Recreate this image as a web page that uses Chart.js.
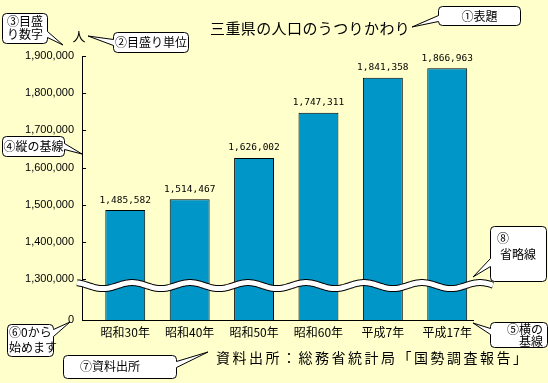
<!DOCTYPE html>
<html>
<head>
<meta charset="utf-8">
<script src="https://cdn.jsdelivr.net/npm/chart.js@4/dist/chart.umd.min.js"></script>
<style>
html,body{margin:0;padding:0;background:#FFFFCC;}
#wrap{width:548px;height:383px;position:relative;}
</style>
</head>
<body>
<div id="wrap"><canvas id="c" width="548" height="383"></canvas></div>
<script>
// ---- data ----
const categories = ['昭和30年', '昭和40年', '昭和50年', '昭和60年', '平成7年', '平成17年'];
const population = [1485582, 1514467, 1626002, 1747311, 1841358, 1866963];
const yTickValues = [1300000, 1400000, 1500000, 1600000, 1700000, 1800000, 1900000];
const zeroLabel = '0';
const chartTitle = '三重県の人口のうつりかわり';
const unitLabel = '人';
const sourceText = '資料出所：総務省統計局「国勢調査報告」';
const calloutTexts = [
  ['①表題'],
  ['②目盛り単位'],
  ['③目盛', 'り数字'],
  ['④縦の基線'],
  ['⑤横の', '基線'],
  ['⑥0から', '始めます'],
  ['⑦資料出所'],
  ['⑧', '省略線']
];

// ---- layout / style (not data) ----
const Y_MIN = 1190000;       // bottom of broken axis (shown as 0)
const Y_MAX = 1900000;
const BREAK_VALUE = 1282500; // where the break mark sits
const BAR_COLOR = '#0096C8';
const BG = '#FFFFCC';
const CJK = "'Noto Sans CJK JP', 'Noto Sans CJK SC', sans-serif";

const calloutLayout = [
  {x:438, y:6,   w:82,  h:19, align:'center', lineY:[16],       side:'left',  base:[15,21],   tip:[412,27]},
  {x:113, y:32,  w:75,  h:20, align:'center', lineY:[42],       side:'left',  base:[39,45],   tip:[88,36]},
  {x:2,   y:13,  w:45,  h:30, align:'center', lineY:[21,34],    side:'right', base:[31,37],   tip:[63,45]},
  {x:2,   y:136, w:62,  h:20, align:'center', lineY:[146],      side:'right', base:[143,149], tip:[82,154]},
  {x:490, y:322, w:57,  h:25, align:'right',  lineY:[329,341],  side:'left',  base:[328,334], tip:[473,323]},
  {x:7,   y:324, w:46,  h:32, align:'left',   lineY:[332,347],  side:'right', base:[329,336], tip:[70,322]},
  {x:63,  y:355, w:113, h:23, align:'left',   lineY:[366],      side:'right', base:[361,367], tip:[208,352], tx:80},
  {x:490, y:226, w:56,  h:55, align:'center', lineY:[238,254],  side:'left',  base:[258,266], tip:[473,277], lineX:[503,518]}
];

function roundRect(ctx, x, y, w, h, r) {
  ctx.beginPath();
  ctx.moveTo(x + r, y);
  ctx.lineTo(x + w - r, y);
  ctx.quadraticCurveTo(x + w, y, x + w, y + r);
  ctx.lineTo(x + w, y + h - r);
  ctx.quadraticCurveTo(x + w, y + h, x + w - r, y + h);
  ctx.lineTo(x + r, y + h);
  ctx.quadraticCurveTo(x, y + h, x, y + h - r);
  ctx.lineTo(x, y + r);
  ctx.quadraticCurveTo(x, y, x + r, y);
  ctx.closePath();
}

function drawCallout(ctx, lines, c) {
  ctx.save();
  ctx.lineWidth = 1;
  ctx.strokeStyle = '#000';
  ctx.fillStyle = '#fff';
  roundRect(ctx, c.x + 0.5, c.y + 0.5, c.w, c.h, 4);
  ctx.fill();
  ctx.stroke();
  // wedge
  let bx = c.side === 'left' ? c.x + 0.5 : c.x + c.w + 0.5;
  let inward = c.side === 'left' ? 2 : -2;
  const b0 = [bx, c.base[0] + 0.5], b1 = [bx, c.base[1] + 0.5];
  ctx.beginPath();
  ctx.moveTo(b0[0], b0[1]);
  ctx.lineTo(c.tip[0], c.tip[1]);
  ctx.lineTo(b1[0], b1[1]);
  ctx.lineTo(b1[0] + inward, b1[1]);
  ctx.lineTo(b0[0] + inward, b0[1]);
  ctx.closePath();
  ctx.fill();
  ctx.beginPath();
  ctx.moveTo(b0[0], b0[1]);
  ctx.lineTo(c.tip[0], c.tip[1]);
  ctx.lineTo(b1[0], b1[1]);
  ctx.stroke();
  // text
  ctx.fillStyle = '#000';
  ctx.font = '12px ' + CJK;
  ctx.textBaseline = 'middle';
  lines.forEach((t, i) => {
    let tx;
    if (c.lineX) { ctx.textAlign = 'center'; tx = c.lineX[i]; }
    else if (c.align === 'center') { ctx.textAlign = 'center'; tx = c.x + c.w / 2 + 0.5; }
    else if (c.align === 'right') { ctx.textAlign = 'right'; tx = c.x + c.w - 4; }
    else { ctx.textAlign = 'left'; tx = c.tx !== undefined ? c.tx : c.x + 2; }
    ctx.fillText(t, tx, c.lineY[i]);
  });
  ctx.restore();
}

const decorPlugin = {
  id: 'decor',
  beforeDraw(chart) {
    const ctx = chart.ctx;
    ctx.save();
    ctx.fillStyle = BG;
    ctx.fillRect(0, 0, chart.width, chart.height);
    ctx.restore();
  },
  afterDatasetsDraw(chart) {
    const ctx = chart.ctx;
    const ys = chart.scales.y;
    const area = chart.chartArea;
    ctx.save();
    // inner tick marks on y axis
    ctx.strokeStyle = '#000';
    ctx.lineWidth = 1;
    yTickValues.forEach(v => {
      const py = Math.round(ys.getPixelForValue(v)) + 0.5;
      ctx.beginPath();
      ctx.moveTo(area.left, py);
      ctx.lineTo(area.left + 4, py);
      ctx.stroke();
    });
    // value labels
    const meta = chart.getDatasetMeta(0);
    ctx.fillStyle = '#000';
    ctx.font = "9.5px 'DejaVu Sans Mono', monospace";
    ctx.textAlign = 'center';
    ctx.textBaseline = 'middle';
    meta.data.forEach((bar, i) => {
      ctx.fillText(population[i].toLocaleString('en-US'), bar.x, bar.y - 10);
    });
    // break (wave) mark
    const cy = ys.getPixelForValue(BREAK_VALUE);
    const x0 = area.left - 5, x1 = area.right + 20;
    const path = () => {
      ctx.beginPath();
      for (let x = x0; x <= x1; x += 1) {
        const y = cy - 3 * Math.cos((x - 132) / 58 * 2 * Math.PI);
        if (x === x0) ctx.moveTo(x, y); else ctx.lineTo(x, y);
      }
    };
    ctx.lineCap = 'butt';
    path(); ctx.strokeStyle = '#000'; ctx.lineWidth = 7; ctx.stroke();
    path(); ctx.strokeStyle = '#fff'; ctx.lineWidth = 5; ctx.stroke();
    ctx.restore();
  },
  afterDraw(chart) {
    const ctx = chart.ctx;
    ctx.save();
    ctx.fillStyle = '#000';
    ctx.textBaseline = 'middle';
    // title
    ctx.font = '15px ' + CJK;
    ctx.textAlign = 'left';
    try { ctx.letterSpacing = '0.4px'; } catch (e) {}
    ctx.fillText(chartTitle, 210, 28);
    // unit
    try { ctx.letterSpacing = '0px'; } catch (e) {}
    ctx.font = '13px ' + CJK;
    ctx.textAlign = 'center';
    ctx.fillText(unitLabel, 79, 36);
    // source
    ctx.font = '14px ' + CJK;
    ctx.textAlign = 'left';
    try { ctx.letterSpacing = '2.5px'; } catch (e) {}
    ctx.fillText(sourceText, 216, 358);
    try { ctx.letterSpacing = '0px'; } catch (e) {}
    ctx.restore();
    calloutTexts.forEach((lines, i) => drawCallout(ctx, lines, calloutLayout[i]));
  }
};

new Chart(document.getElementById('c'), {
  type: 'bar',
  data: {
    datasets: [{
      data: population.map((v, i) => ({x: i, y: v})),
      backgroundColor: BAR_COLOR,
      borderColor: '#000',
      borderWidth: 1,
      borderSkipped: false,
      barPercentage: 0.62,
      categoryPercentage: 1
    }]
  },
  options: {
    responsive: false,
    animation: false,
    devicePixelRatio: 1,
    layout: {padding: {left: 0, top: 56, right: 75, bottom: 33}},
    plugins: {legend: {display: false}, tooltip: {enabled: false}, title: {display: false}},
    scales: {
      x: {
        type: 'linear',
        offset: false,
        min: -0.672,
        max: 5.4,
        grid: {display: false, drawTicks: false},
        border: {display: true, color: '#000', width: 1},
        afterFit: s => { s.height = 30; },
        afterBuildTicks: s => { s.ticks = categories.map((_, i) => ({value: i})); },
        ticks: {
          autoSkip: false, maxRotation: 0, padding: 5, color: '#000',
          font: {family: CJK, size: 12},
          callback: v => categories[v]
        }
      },
      y: {
        type: 'linear',
        min: Y_MIN,
        max: Y_MAX,
        grid: {display: false, drawTicks: false},
        border: {display: true, color: '#000', width: 1},
        afterFit: s => { s.width = 82; },
        afterBuildTicks: s => { s.ticks = [{value: Y_MIN}].concat(yTickValues.map(v => ({value: v}))); },
        ticks: {
          padding: 8, color: '#000',
          font: {family: "'Liberation Sans', Arial, sans-serif", size: 11},
          callback: v => v === Y_MIN ? zeroLabel : v.toLocaleString('en-US')
        }
      }
    }
  },
  plugins: [decorPlugin]
});
</script>
</body>
</html>
